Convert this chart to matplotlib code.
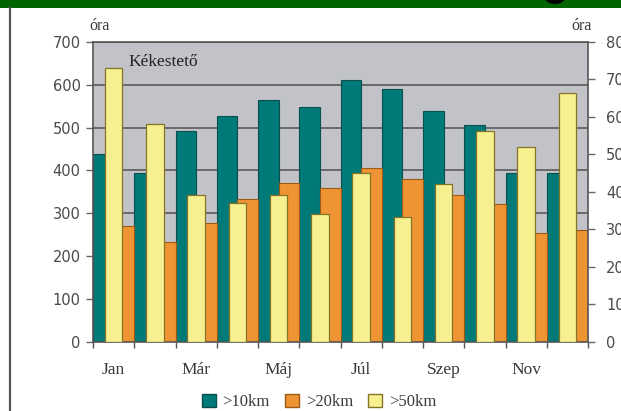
import matplotlib.pyplot as plt
import numpy as np
from matplotlib.patches import Rectangle, Ellipse, Patch
from matplotlib.lines import Line2D

months = ["Jan", "Feb", "Már", "Ápr", "Máj", "Jún", "Júl", "Aug", "Szep", "Okt", "Nov", "Dec"]
shown_months = ["Jan", "Már", "Máj", "Júl", "Szep", "Nov"]
over_10km = [438, 394, 492, 527, 565, 549, 611, 589, 539, 507, 393, 393]   # bal tengely
over_20km = [270, 232, 277, 334, 371, 359, 405, 380, 342, 322, 254, 260]   # bal tengely
over_50km = [73.0, 58.0, 39.0, 37.0, 39.0, 34.0, 45.0, 33.2, 42.0, 56.2, 52.0, 66.3]  # jobb tengely
left_ticks = [0, 100, 200, 300, 400, 500, 600, 700]
right_ticks = [0, 10, 20, 30, 40, 50, 60, 70, 80]

TEAL = "#007a78"
ORANGE = "#ef9432"
YELLOW = "#f7f090"
SERIF = "Liberation Serif"
SANS = "DejaVu Sans"
TXT = "#3a3a3a"

W, H = 621, 411
fig = plt.figure(figsize=(W / 100, H / 100), dpi=100)
ax = fig.add_axes([93 / W, 1 - 341.5 / H, 495 / W, 299.5 / H])

x = np.arange(len(months))
ax.bar(x - 0.25, over_10km, width=0.5, color=TEAL, edgecolor="#0b4f4c", linewidth=0.8, zorder=2)
ax.bar(x + 0.25, over_20km, width=0.5, color=ORANGE, edgecolor="#9a5a18", linewidth=0.8, zorder=2)

ax.set_xlim(-0.5, len(months) - 0.5)
ax.set_ylim(0, 700)
ax.set_facecolor("#c2c3c8")
ax.set_axisbelow(True)
ax.yaxis.grid(True, color="#5a5a5a", linewidth=1.2)
ax.set_yticks(left_ticks)
ax.set_yticklabels([str(t) for t in left_ticks], fontfamily=SANS, fontsize=10.5, color="#4a4a4a")
ax.tick_params(axis="y", length=5, width=1, color="#666", pad=4)

# x tengely: osztásjelek a kategóriahatárokon, feliratok minden második hónapnál
ax.set_xticks(np.arange(-0.5, len(months), 1.0))
ax.set_xticklabels([])
ax.tick_params(axis="x", which="major", length=4, width=1, color="#555")
ax.set_xticks([months.index(m) for m in shown_months], minor=True)
ax.set_xticklabels(shown_months, minor=True, fontfamily=SERIF, fontsize=12.5, color=TXT)
ax.tick_params(axis="x", which="minor", length=0, pad=15)

for s in ["top", "right", "bottom", "left"]:
    ax.spines[s].set_color("#555")
    ax.spines[s].set_linewidth(1.2)

ax2 = ax.twinx()
ax2.bar(x, over_50km, width=0.42, color=YELLOW, edgecolor="#857328", linewidth=0.9, zorder=3)
ax2.set_ylim(0, 80)
ax2.set_yticks(right_ticks)
ax2.set_yticklabels([str(t) for t in right_ticks], fontfamily=SANS, fontsize=10.5, color="#4a4a4a")
ax2.tick_params(axis="y", length=5, width=1, color="#666", pad=8)
for s in ["top", "right", "bottom", "left"]:
    ax2.spines[s].set_visible(False)

ax.text(0.071, 0.933, "Kékestető", transform=ax.transAxes, fontfamily=SERIF,
        fontsize=12.5, color="#222", va="center", ha="left")
fig.text(100 / W, 1 - 26 / H, "óra", fontfamily=SERIF, fontsize=11.5, color=TXT, ha="center", va="center")
fig.text(582 / W, 1 - 26 / H, "óra", fontfamily=SERIF, fontsize=11.5, color=TXT, ha="center", va="center")

# Jelmagyarázat
handles = [Patch(facecolor=TEAL, edgecolor="#0b4f4c"),
           Patch(facecolor=ORANGE, edgecolor="#9a5a18"),
           Patch(facecolor=YELLOW, edgecolor="#857328")]
leg = fig.legend(handles, [">10km", ">20km", ">50km"], loc="center", bbox_to_anchor=(319 / W, 1 - 402 / H),
                 ncol=3, frameon=False, handlelength=0.85, handleheight=0.85, handletextpad=0.4,
                 columnspacing=0.9, prop={"family": SERIF, "size": 12})
for t in leg.get_texts():
    t.set_color(TXT)

# keret: zöld sáv felül, függőleges vonal balra
fig.patches.append(Rectangle((0, 1 - 8 / H), 1, 8 / H, transform=fig.transFigure,
                             facecolor="#006400", edgecolor="none", zorder=0))
fig.patches.append(Ellipse((555 / W, 1 + 8 / H), 26 / W, 24 / H, transform=fig.transFigure,
                           facecolor="black", edgecolor="none", zorder=1))
fig.lines.append(Line2D([10 / W, 10 / W], [0, 1 - 8 / H], transform=fig.transFigure,
                        color="#555", linewidth=1.6))

fig.savefig("out.png", dpi=100)
